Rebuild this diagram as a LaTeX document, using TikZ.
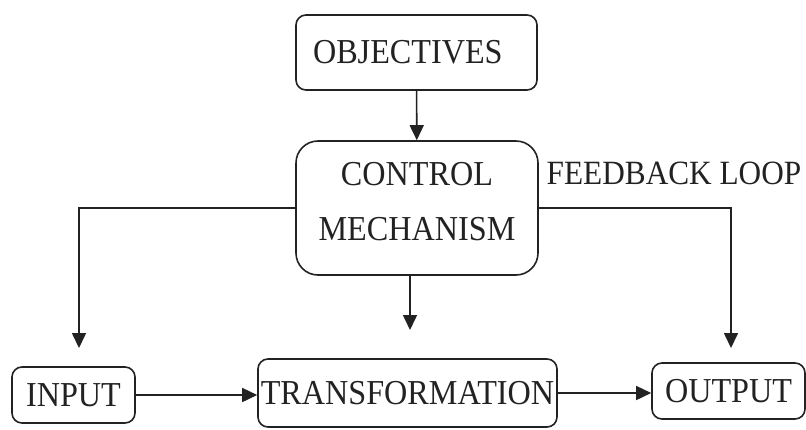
\documentclass[tikz,border=0pt]{standalone}
\usepackage{fontspec}
\setmainfont{Liberation Serif}[FakeStretch=0.92]
\usepackage{tikz}
\usetikzlibrary{shapes.geometric, arrows.meta}
\definecolor{ink}{HTML}{222222}
\tikzstyle{arrow} = [draw=ink,line width=1.6pt,-{Triangle[length=15pt,width=14pt]}]
\tikzstyle{box} = [draw=ink,line width=1.6pt,rounded corners=10pt,inner sep=0pt,text=ink,font=\fontsize{35}{55}\selectfont]

\begin{document}
\begin{tikzpicture}[x=1pt,y=-1pt]
  \useasboundingbox (0,0) rectangle (806,429);
  \node[box,minimum width=241,minimum height=75,inner xsep=17pt,text width=207pt,align=left] (obj) at (416.5,52.5) {OBJECTIVES};
  \node[box,minimum width=242,minimum height=134,rounded corners=22pt,align=center,text depth=13pt] (ctrl) at (417,208) {CONTROL\\MECHANISM};
  \node[text=ink,font=\fontsize{34}{38}\selectfont,inner sep=0pt] (fb) at (674,173) {FEEDBACK LOOP};
  \node[box,minimum width=123,minimum height=56] (in) at (73.5,395) {INPUT};
  \node[box,minimum width=299,minimum height=68] (trans) at (407.5,393) {TRANSFORMATION};
  \node[box,minimum width=153,minimum height=56] (out) at (728.5,391) {OUTPUT};

  \coordinate (inTip) at (79,348);
  \coordinate (midTip) at (410,330);
  \coordinate (outTip) at (731,348);

  \draw[arrow] (obj) -- (ctrl);
  \draw[arrow] (ctrl.west) -| (inTip);
  \draw[arrow] (ctrl.east) -| (outTip);
  \draw[arrow] (midTip |- ctrl.south) -- (midTip);
  \draw[arrow] (in.east) -- (in.east -| trans.west);
  \draw[arrow] (trans.east) -- (trans.east -| out.west);
\end{tikzpicture}
\end{document}
